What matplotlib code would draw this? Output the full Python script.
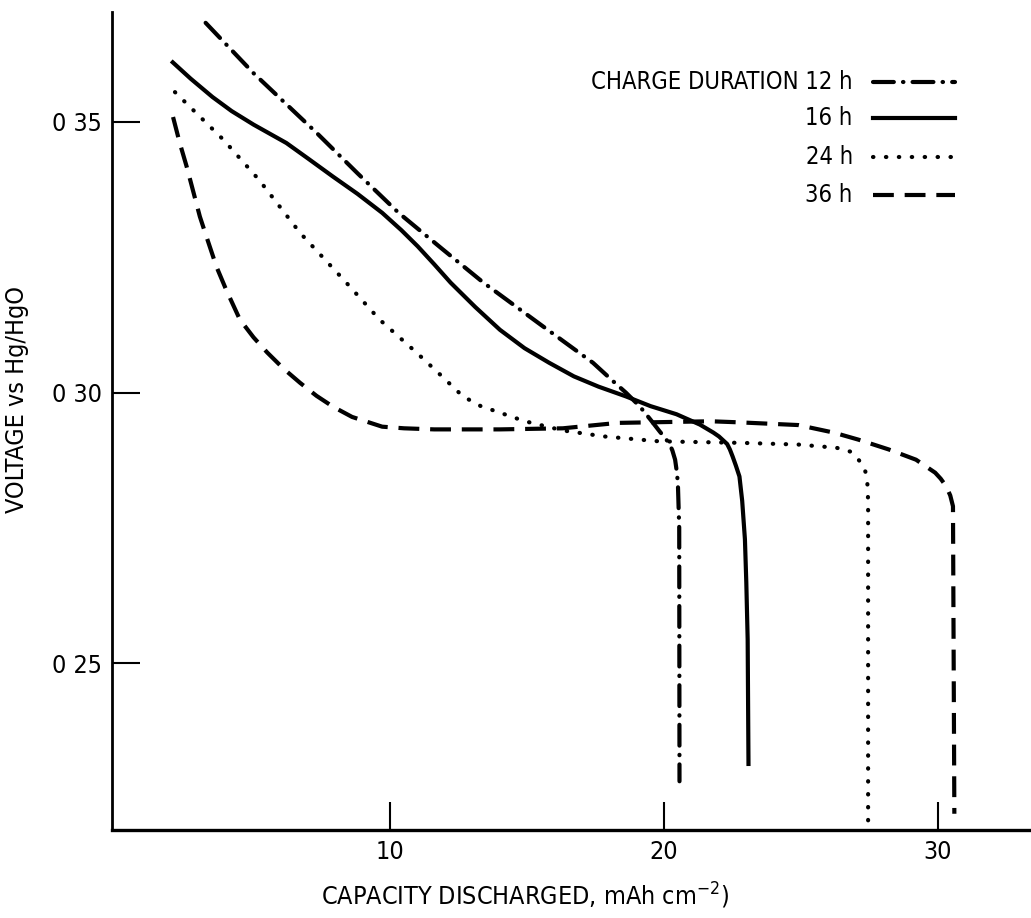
import matplotlib.pyplot as plt

plt.rcParams['font.family'] = ['Liberation Sans Narrow', 'DejaVu Sans']
plt.rcParams['font.stretch'] = 'condensed'

# Curvas de descarga (capacidad en mAh cm-2, voltaje vs Hg/HgO)
cap_12h = [3.25, 5.0, 7.3, 8.8, 10.3, 11.9, 13.4, 15.5, 17.4, 18.2, 18.6, 19.1,
           19.5, 19.84, 20.05, 20.2, 20.3, 20.4, 20.45, 20.5, 20.55, 20.56]
volt_12h = [0.3683, 0.3590, 0.3480, 0.3405, 0.3332, 0.3265, 0.3203, 0.3125, 0.3055,
            0.3018, 0.3000, 0.2975, 0.2950, 0.2928, 0.2915, 0.2905, 0.2893, 0.2876,
            0.2858, 0.2834, 0.2750, 0.2282]

cap_16h = [2.05, 2.7, 3.5, 4.2, 5.0, 5.6, 6.2, 7.0, 7.9, 8.8, 9.7, 10.4, 11.0, 11.6,
           12.2, 13.1, 14.0, 14.9, 15.8, 16.7, 17.6, 18.6, 19.5, 20.45, 21.3, 21.8,
           22.0, 22.15, 22.3, 22.4, 22.5, 22.62, 22.75, 22.85, 22.95, 23.0, 23.05, 23.08]
volt_16h = [0.3610, 0.3580, 0.3546, 0.3520, 0.3495, 0.3478, 0.3461, 0.3432, 0.3399,
            0.3367, 0.3332, 0.3300, 0.3270, 0.3237, 0.3203, 0.3158, 0.3116, 0.3082,
            0.3055, 0.3030, 0.3011, 0.2993, 0.2975, 0.2960, 0.2941, 0.2926, 0.2919,
            0.2912, 0.2905, 0.2895, 0.2882, 0.2865, 0.2845, 0.2800, 0.2729, 0.2650,
            0.2544, 0.2314]

cap_24h = [2.13, 3.9, 5.2, 6.7, 8.3, 9.6, 10.95, 11.8, 12.65, 13.3, 14.0, 14.5, 15.0,
           16.3, 17.8, 19.8, 22.9, 24.9, 26.3, 26.8, 27.1, 27.25, 27.35, 27.42, 27.45,
           27.45]
volt_24h = [0.3555, 0.3467, 0.3393, 0.3295, 0.3208, 0.3135, 0.3074, 0.3034, 0.2993,
            0.2975, 0.2963, 0.2954, 0.2946, 0.2930, 0.2919, 0.2910, 0.2907, 0.2904,
            0.2898, 0.2891, 0.2876, 0.2866, 0.2854, 0.2835, 0.2800, 0.2194]

cap_36h = [2.06, 2.3, 2.56, 2.8, 3.04, 3.3, 3.65, 4.0, 4.5, 5.0, 5.5, 6.1, 6.7, 7.3,
           7.9, 8.6, 9.7, 10.5, 11.6, 14.0, 16.3, 18.3, 21.7, 22.75, 24.9, 26.2, 27.1,
           28.2, 29.2, 29.9, 30.1, 30.3, 30.45, 30.55, 30.6]
volt_36h = [0.3509, 0.3462, 0.3417, 0.3371, 0.3325, 0.3285, 0.3232, 0.3190, 0.3135,
            0.3102, 0.3074, 0.3044, 0.3018, 0.2994, 0.2974, 0.2955, 0.2937, 0.2934,
            0.2932, 0.2932, 0.2934, 0.2944, 0.2947, 0.2945, 0.2940, 0.2926, 0.2913,
            0.2895, 0.2876, 0.2852, 0.2841, 0.2827, 0.2810, 0.2790, 0.2222]

labels = ['CHARGE DURATION 12 h', '16 h', '24 h', '36 h']
x_ticks = [10, 20, 30]
y_ticks = [0.25, 0.30, 0.35]
y_ticklabels = ['0 25', '0 30', '0 35']

lw = 3.0
styles = [
    dict(dashes=(5, 2.2, 0.1, 2.2), dash_capstyle='round'),
    dict(linestyle='-'),
    dict(dashes=(0.1, 3.0), dash_capstyle='round'),
    dict(dashes=(5, 2.6), dash_capstyle='butt'),
]
series = [(cap_12h, volt_12h), (cap_16h, volt_16h), (cap_24h, volt_24h), (cap_36h, volt_36h)]

fig = plt.figure(figsize=(10.31, 9.18), dpi=100)
ax = fig.add_axes([112 / 1031, 1 - 830 / 918, 919 / 1031, 818 / 918])

for (x, y), st in zip(series, styles):
    ax.plot(x, y, color='black', lw=lw, solid_joinstyle='round', **st)

# leyenda dibujada a mano, como en la figura original
rows = [0.914, 0.870, 0.823, 0.776]
for lab, st, yy in zip(labels, styles, rows):
    ax.text(0.806, yy, lab, transform=ax.transAxes, ha='right', va='center', fontsize=17)
    ax.plot([0.828, 0.917], [yy, yy], transform=ax.transAxes, color='black', lw=lw, **st)

ax.set_xlim(-0.17, 33.4)
ax.set_ylim(0.2192, 0.3703)
ax.spines['top'].set_visible(False)
ax.spines['right'].set_visible(False)
ax.spines['left'].set_linewidth(2)
ax.spines['bottom'].set_linewidth(2.4)

ax.set_xticks(x_ticks)
ax.set_xticklabels([str(t) for t in x_ticks])
ax.set_yticks(y_ticks)
ax.set_yticklabels(y_ticklabels)
ax.tick_params(direction='in', length=20, width=1.5, labelsize=18, pad=7)

ax.set_xlabel('CAPACITY DISCHARGED, mAh cm$^{-2}$)', fontsize=18)
ax.set_ylabel('VOLTAGE vs Hg/HgO', fontsize=18)
ax.xaxis.set_label_coords(0.449, -0.062)
ax.yaxis.set_label_coords(-0.09, 0.526)

plt.savefig('out.png', dpi=100)
